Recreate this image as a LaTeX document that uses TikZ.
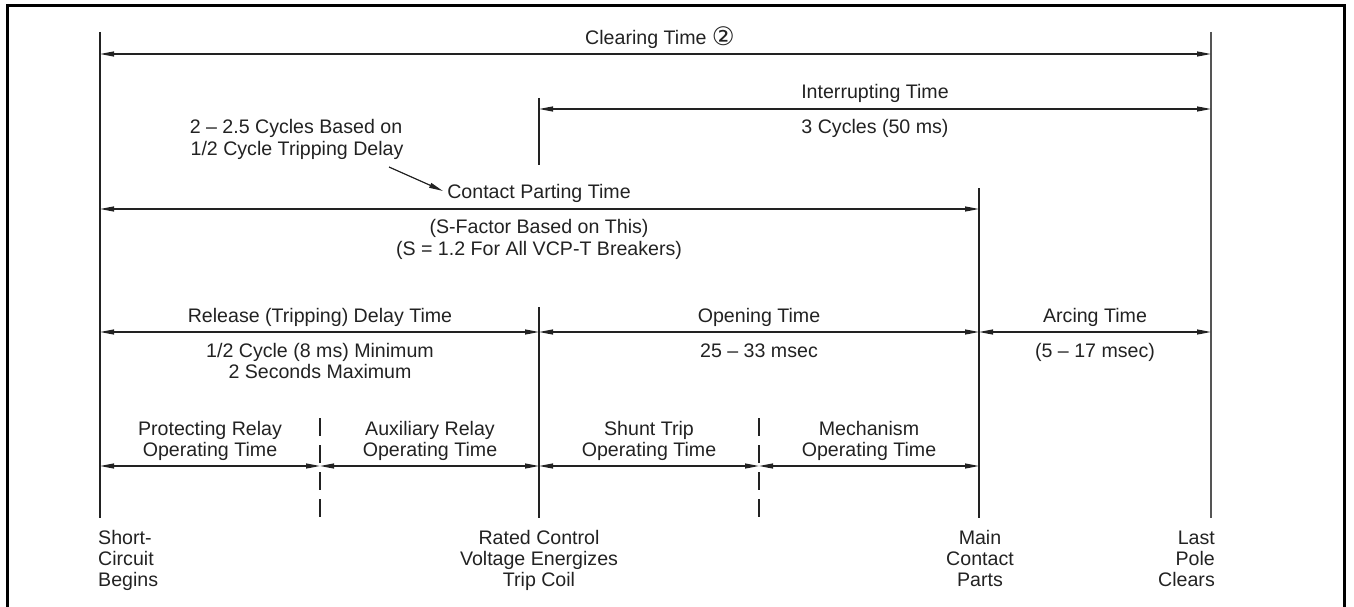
\documentclass[tikz,border=0pt]{standalone}
\usepackage{fontspec}
\setmainfont{Liberation Sans}
\newfontfamily\symfont{DejaVu Sans}
\usetikzlibrary{arrows.meta}
\definecolor{ink}{HTML}{222222}
\definecolor{inkgray}{HTML}{555555}
\begin{document}
\begin{tikzpicture}[x=1pt,y=-1pt,
  lbl/.style={inner sep=0pt, anchor=base, font=\fontsize{19.6}{21}\selectfont, text=ink},
  lbll/.style={lbl, anchor=base west},
  lblr/.style={lbl, anchor=base east},
  vline/.style={draw=ink, line width=1.4pt},
  dline/.style={draw=ink, line width=1.4pt, dash pattern=on 18pt off 9pt},
  tip/.tip={Triangle[length=14pt,width=5pt]},
  dim/.style={draw=ink, line width=1.2pt, tip-tip},
  pointer/.style={draw=ink, line width=1.2pt, -tip},
  frame/.style={draw=black, line width=3pt}
]
\useasboundingbox (0,0) rectangle (1354,607);
\draw[frame] (7,612) -- (7,6) -- (1344,6) -- (1344,612);

% time-point verticals
\coordinate (v1t) at (100,32);  \coordinate (v1b) at (100,518);
\coordinate (v2t) at (539,98);  \coordinate (v2m) at (539,165);
\coordinate (v2u) at (539,307); \coordinate (v2b) at (539,518);
\coordinate (v3t) at (979,188); \coordinate (v3b) at (979,518);
\coordinate (v4t) at (1211,32); \coordinate (v4b) at (1211,518);
\coordinate (d1t) at (320,418); \coordinate (d1b) at (320,518);
\coordinate (d2t) at (759,418); \coordinate (d2b) at (759,518);

\draw[vline] (v1t) -- (v1b);
\draw[vline] (v2t) -- (v2m);
\draw[vline] (v2u) -- (v2b);
\draw[vline] (v3t) -- (v3b);
\draw[vline, draw=inkgray] (v4t) -- (v4b);
\draw[dline] (d1t) -- (d1b);
\draw[dline] (d2t) -- (d2b);

% arrow end points
\coordinate (c1) at (100,54);  \coordinate (c2) at (1211,54);
\coordinate (i1) at (539,109); \coordinate (i2) at (1211,109);
\coordinate (p1) at (100,209); \coordinate (p2) at (979,209);
\coordinate (r1) at (100,332); \coordinate (r2) at (539,332);
\coordinate (r3) at (979,332); \coordinate (r4) at (1211,332);
\coordinate (b1) at (100,466); \coordinate (b2) at (320,466);
\coordinate (b3) at (539,466); \coordinate (b4) at (759,466);
\coordinate (b5) at (979,466);

\draw[dim] (c1) -- (c2);
\draw[dim] (i1) -- (i2);
\draw[dim] (p1) -- (p2);
\draw[dim] (r1) -- (r2);
\draw[dim] (r2) -- (r3);
\draw[dim] (r3) -- (r4);
\draw[dim] (b1) -- (b2);
\draw[dim] (b2) -- (b3);
\draw[dim] (b3) -- (b4);
\draw[dim] (b4) -- (b5);

% labels
\node[lbl] (clr) at (660,45) {Clearing Time {\symfont\raisebox{-0.6pt}{\scalebox{1.3}{②}}}};
\node[lbl] (int) at (875,99) {Interrupting Time};
\node[lbl] (int2) at (875,134) {3 Cycles (50 ms)};
\node[lbl] (cyc1) at (296,134) {2 – 2.5 Cycles Based on};
\node[lbl] (cyc2) at (297,156) {1/2 Cycle Tripping Delay};
\node[lbl] (cpt) at (539,198) {Contact Parting Time};
\node[lbl] (sf1) at (539,233) {(S-Factor Based on This)};
\node[lbl] (sf2) at (539,255) {(S = 1.2 For All VCP-T Breakers)};
\coordinate (pa) at (389,167);
\coordinate (pb) at (443,191);
\draw[pointer] (pa) -- (pb);

\node[lbl] (rel) at (320,322) {Release (Tripping) Delay Time};
\node[lbl] (rel2) at (320,357) {1/2 Cycle (8 ms) Minimum};
\node[lbl] (rel3) at (320,378) {2 Seconds Maximum};
\node[lbl] (opn) at (759,322) {Opening Time};
\node[lbl] (opn2) at (759,357) {25 – 33 msec};
\node[lbl] (arc) at (1095,322) {Arcing Time};
\node[lbl] (arc2) at (1095,357) {(5 – 17 msec)};

\node[lbl] (pr1) at (210,435) {Protecting Relay};
\node[lbl] (pr2) at (210,456) {Operating Time};
\node[lbl] (ar1) at (430,435) {Auxiliary Relay};
\node[lbl] (ar2) at (430,456) {Operating Time};
\node[lbl] (st1) at (649,435) {Shunt Trip};
\node[lbl] (st2) at (649,456) {Operating Time};
\node[lbl] (me1) at (869,435) {Mechanism};
\node[lbl] (me2) at (869,456) {Operating Time};

\node[lbll] (sc1) at (98,544) {Short-};
\node[lbll] (sc2) at (98,565) {Circuit};
\node[lbll] (sc3) at (98,586) {Begins};
\node[lbl] (rc1) at (539,544) {Rated Control};
\node[lbl] (rc2) at (539,565) {Voltage Energizes};
\node[lbl] (rc3) at (539,586) {Trip Coil};
\node[lbl] (mc1) at (980,544) {Main};
\node[lbl] (mc2) at (980,565) {Contact};
\node[lbl] (mc3) at (980,586) {Parts};
\node[lblr] (lp1) at (1215,544) {Last};
\node[lblr] (lp2) at (1215,565) {Pole};
\node[lblr] (lp3) at (1215,586) {Clears};
\end{tikzpicture}
\end{document}
